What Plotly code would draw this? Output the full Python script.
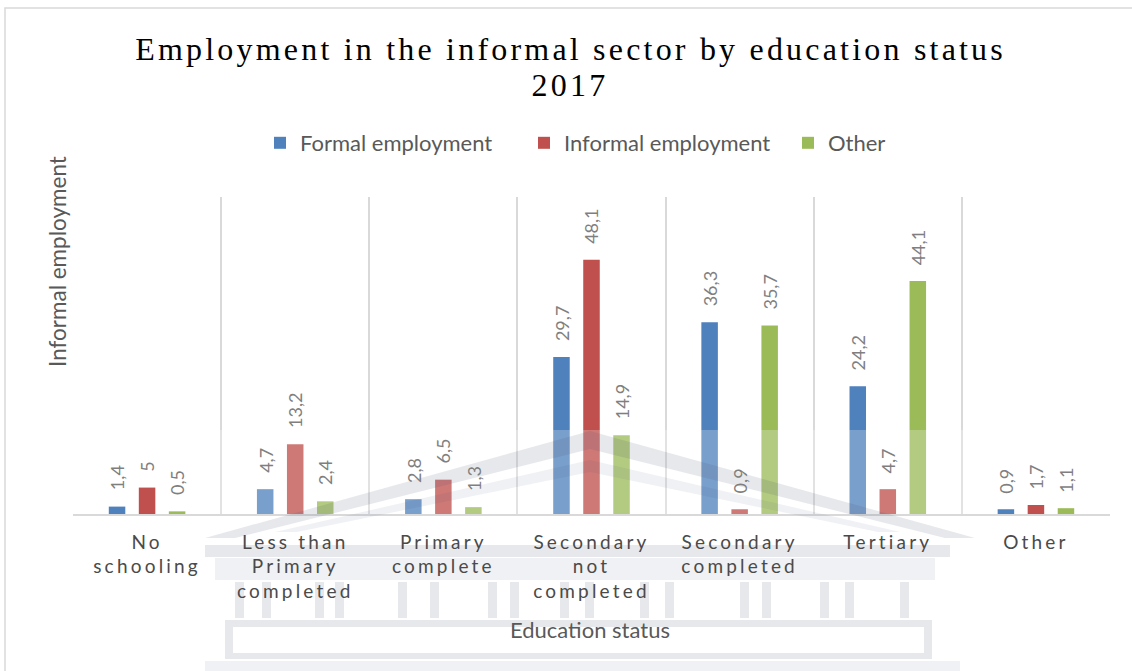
import plotly.graph_objects as go

# Education categories (x axis) and the three employment series
categories = [
    "No<br>schooling",
    "Less than<br>Primary<br>completed",
    "Primary<br>complete",
    "Secondary<br>not<br>completed",
    "Secondary<br>completed",
    "Tertiary",
    "Other",
]
formal = [1.4, 4.7, 2.8, 29.7, 36.3, 24.2, 0.9]
informal = [5, 13.2, 6.5, 48.1, 0.9, 4.7, 1.7]
other = [0.5, 2.4, 1.3, 14.9, 35.7, 44.1, 1.1]

series = [
    ("Formal employment", formal, "#4F81BD"),
    ("Informal employment", informal, "#C0504D"),
    ("Other", other, "#9BBB59"),
]

W, H = 1132, 671
L, R, T, B = 73, 1110, 197, 514  # plot area edges in pixels
BARGAP, GROUPGAP = 0.392, 0.45


def fx(px):
    return (px - L) / (R - L)


def fy(py):
    return (B - py) / (B - T)


def comma(v):
    return f"{v:g}".replace(".", ",")


fig = go.Figure()
for name, vals, color in series:
    fig.add_trace(go.Bar(
        name=name,
        x=categories,
        y=vals,
        marker=dict(color=color, line=dict(width=0)),
    ))

# value labels: rotated, sitting a little above each bar
cat_w = (R - L) / len(categories)
slot = (1 - BARGAP) * cat_w / len(series)
annotations = []
for i, (name, vals, color) in enumerate(series):
    shift = (i - (len(series) - 1) / 2) * slot
    for c, v in zip(categories, vals):
        annotations.append(dict(
            x=c, y=v, xref="x", yref="y", text=comma(v), textangle=-90,
            xanchor="center", yanchor="bottom", xshift=shift, yshift=14,
            showarrow=False,
            font=dict(family="Lato", size=18, color="#7f7f7f"),
        ))

annotations += [
    dict(text="Employment in the informal sector by education status",
         xref="paper", yref="paper", x=fx(570), y=fy(49),
         xanchor="center", yanchor="middle", showarrow=False,
         font=dict(family="Liberation Serif", size=32, color="black")),
    dict(text="2017",
         xref="paper", yref="paper", x=fx(570), y=fy(85),
         xanchor="center", yanchor="middle", showarrow=False,
         font=dict(family="Liberation Serif", size=32, color="black")),
    dict(text="Informal employment", textangle=-90,
         xref="paper", yref="paper", x=fx(57), y=fy(262),
         xanchor="center", yanchor="middle", showarrow=False,
         font=dict(family="Lato", size=22.5, color="#595959")),
    dict(text="Education status",
         xref="paper", yref="paper", x=fx(590), y=fy(629),
         xanchor="center", yanchor="middle", showarrow=False,
         font=dict(family="Lato", size=22, color="#595959")),
]

# faint building watermark across the lower part of the chart
ink = "rgba(70,78,110,0.13)"
ink_light = "rgba(70,78,110,0.08)"
haze = "rgba(255,255,255,0.24)"


def rect(x0, y0, x1, y1, color, layer="below"):
    return dict(type="rect", xref="paper", yref="paper",
                x0=fx(x0), x1=fx(x1), y0=fy(y1), y1=fy(y0),
                fillcolor=color, line=dict(width=0), layer=layer)


def poly(points, color, layer="above"):
    d = "M " + " L ".join(f"{fx(x)},{fy(y)}" for x, y in points) + " Z"
    return dict(type="path", xref="paper", yref="paper", path=d,
                fillcolor=color, line=dict(width=0), layer=layer)


watermark = [
    # washed-out tint over the bars
    rect(215, 430, 965, B, haze, layer="above"),
    # pediment frame
    poly([(205, 538), (590, 431), (975, 538), (945, 538), (590, 449), (235, 538)], ink),
    poly([(275, 532), (590, 460), (900, 532), (878, 532), (590, 472), (297, 532)], ink_light),
    # cornice and frieze bands
    rect(205, 545, 950, 557, ink),
    rect(215, 558, 935, 580, ink_light),
    # columns
    *[rect(x, 582, x + 9, 618, ink) for x in
      (235, 262, 315, 335, 398, 430, 488, 510, 560, 585, 640, 665, 740, 762, 820, 845, 900)],
    # architrave frame
    rect(225, 620, 932, 627, ink),
    rect(225, 627, 233, 653, ink),
    rect(924, 627, 932, 653, ink),
    rect(225, 653, 932, 659, ink),
    # base
    rect(205, 661, 960, 671, ink_light),
]

grid = "#d9d9d9"
fig.update_layout(
    width=W, height=H,
    margin=dict(l=L, r=W - R, t=T, b=H - B),
    paper_bgcolor="white", plot_bgcolor="white",
    barmode="group", bargap=BARGAP, bargroupgap=GROUPGAP,
    showlegend=True,
    legend=dict(
        orientation="h", xref="container", yref="container",
        x=260 / W, xanchor="left", y=1 - 143 / H, yanchor="middle",
        entrywidth=219, entrywidthmode="pixels",
        font=dict(family="Lato", size=22, color="#595959"),
        bgcolor="rgba(0,0,0,0)",
    ),
    xaxis=dict(
        type="category", tickson="boundaries", ticks="", ticklen=0,
        showgrid=True, gridcolor=grid, gridwidth=1.5,
        showline=True, linecolor=grid, linewidth=1.5,
        tickfont=dict(family="Lato", size=19, color="#4a4a4a"),
        ticklabelstandoff=10,
    ),
    yaxis=dict(range=[0, 60], visible=False, showgrid=False, zeroline=False),
    shapes=[
        # outer chart frame
        dict(type="rect", xref="paper", yref="paper",
             x0=fx(5), x1=fx(1140), y0=fy(680), y1=fy(8),
             line=dict(color="#d9d9d9", width=1.5), layer="below"),
        *watermark,
    ],
    annotations=annotations,
)

# widen the letter spacing of the title lines and category labels
spacing_js = """
var gd = document.getElementById('{plot_id}');
function spread() {
  gd.querySelectorAll('.annotation-text').forEach(function (t) {
    if (t.textContent.indexOf('Employment in') === 0 || t.textContent === '2017') {
      t.style.letterSpacing = '3.2px';
    }
  });
  gd.querySelectorAll('.xtick text').forEach(function (t) {
    t.style.letterSpacing = '3.2px';
  });
}
spread();
gd.on('plotly_afterplot', spread);
"""

fig.write_html("out.html", post_script=spacing_js)
